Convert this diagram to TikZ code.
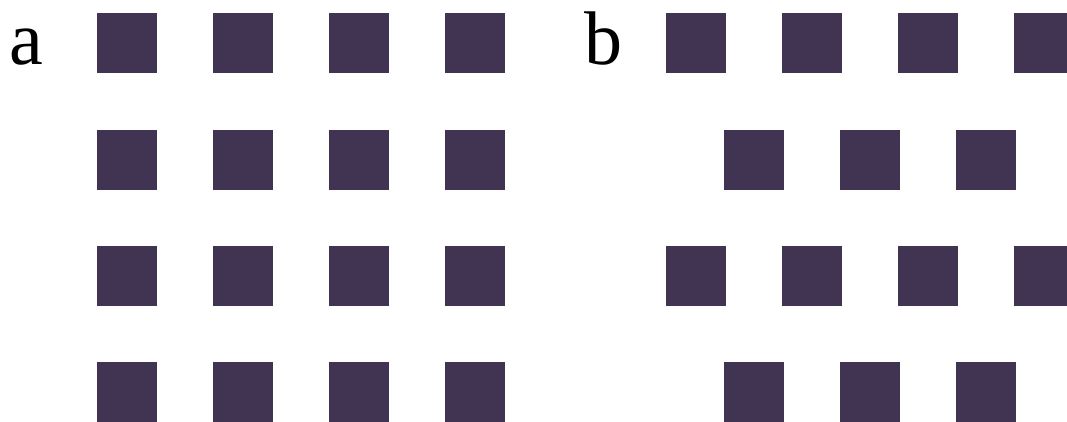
\documentclass[tikz,border=0pt]{standalone}
\usepackage{fontspec}
\setmainfont{Liberation Serif}
\definecolor{sq}{RGB}{65,51,82}
\begin{document}
\begin{tikzpicture}[x=1pt,y=-1pt,
  cell/.style={fill=sq,draw=none,minimum width=60pt,minimum height=60pt,inner sep=0pt,anchor=north west},
  lbl/.style={inner sep=0pt,anchor=base west,font=\fontsize{76}{80}\selectfont}]
\useasboundingbox (0,0) rectangle (1067,421);
\clip (0,0) rectangle (1067,421);
\node[lbl] (la) at (9,64) {a};
\node[lbl] (lb) at (584,64) {b};
% panel a
\foreach \i/\x in {1/97,2/213,3/329,4/445}{
  \foreach \j/\y in {1/13,2/130,3/246,4/362}{
    \node[cell] (a\i\j) at (\x,\y) {};
  }
}
% panel b
\foreach \i/\x in {1/666,2/782,3/898,4/1014}{
  \foreach \j/\y in {1/13,3/246}{
    \node[cell] (b\i\j) at (\x,\y) {};
  }
}
\foreach \i/\x in {1/724,2/840,3/956}{
  \foreach \j/\y in {2/130,4/362}{
    \node[cell] (c\i\j) at (\x,\y) {};
  }
}
\end{tikzpicture}
\end{document}
